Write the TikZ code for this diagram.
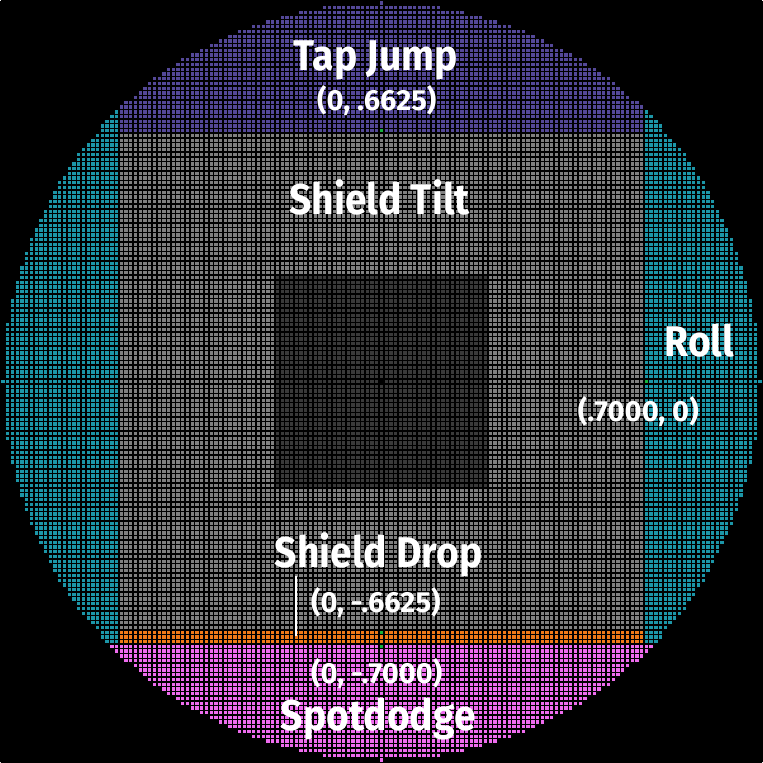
\documentclass[tikz,border=0pt]{standalone}
\usepackage{fontspec}
\setmainfont{Fira Sans}
\usetikzlibrary{positioning}

\definecolor{tapjump}{RGB}{84,72,152}
\definecolor{roll}{RGB}{28,150,168}
\definecolor{shieldtilt}{RGB}{128,128,128}
\definecolor{deadzone}{RGB}{58,58,58}
\definecolor{shielddrop}{RGB}{240,122,24}
\definecolor{spotdodge}{RGB}{238,108,238}
\definecolor{marker}{RGB}{20,180,60}

\begin{document}
\begin{tikzpicture}[x=1mm,y=1mm,
  every node/.style={text=white,font=\bfseries},
  biglabel/.style={font=\fontsize{23.5}{24}\selectfont\bfseries,anchor=base,yscale=1.1},
  coordlabel/.style={font=\fontsize{17.5}{18}\selectfont\bfseries,anchor=base},
  cell/.style={fill=#1}]

% background
\fill[black] (-80.5,-80.5) rectangle (80.5,80.5);

% stick range: every cell with x^2+y^2 <= 80^2
\begin{scope}
\clip \foreach \r [evaluate=\r as \w using {floor(sqrt(6400-\r*\r))+0.5}] in {-80,...,80}
  { (-\w,\r-0.5) rectangle (\w,\r+0.5) };

% zones
\fill[roll] (-80.5,-80.5) rectangle (80.5,80.5);
\fill[tapjump] (-55.5,52.5) rectangle (55.5,80.5);
\fill[shieldtilt] (-55.5,-52.5) rectangle (55.5,52.5);
\fill[shielddrop] (-55.5,-55.5) rectangle (55.5,-52.5);
\fill[spotdodge] (-80.5,-80.5) rectangle (80.5,-55.5);
\fill[deadzone] (-22.5,-22.5) rectangle (22.5,22.5);

% threshold markers
\foreach \cx/\cy in {0/53,0/-53,0/-56,56/0}
  \fill[marker] (\cx-0.5,\cy-0.5) rectangle (\cx+0.5,\cy+0.5);
\fill[black] (-0.5,-0.5) rectangle (0.5,0.5);
\end{scope}

% cell gaps
\draw[black,line width=0.3mm,step=1mm,shift={(0.5,0.5)}] (-81,-81) grid (80,80);

% labels
\node[biglabel] (tap) at (-1.2,65.7) {Tap Jump};
\node[coordlabel] (tapval) at (-1,57.3) {(0, .6625)};
\node[biglabel] (tilt) at (-0.4,35.3) {Shield Tilt};
\node[biglabel] (roll) at (67.2,5.2) {Roll};
\node[coordlabel] (rollval) at (54.3,-8.5) {(.7000, 0)};
\node[biglabel] (drop) at (-0.6,-39.4) {Shield Drop};
\node[coordlabel] (dropval) at (-1.2,-48.8) {(0, -.6625)};
\node[coordlabel] (dodgeval) at (-1,-63.8) {(0, -.7000)};
\node[biglabel] (dodge) at (-0.7,-73.7) {Spotdodge};

% tick from the drop label down to its zone
\coordinate (droptop) at (-18,-41.2);
\coordinate (dropzone) at (-18,-53.9);
\draw[white,line width=0.42mm] (droptop) -- (dropzone);

\end{tikzpicture}
\end{document}
